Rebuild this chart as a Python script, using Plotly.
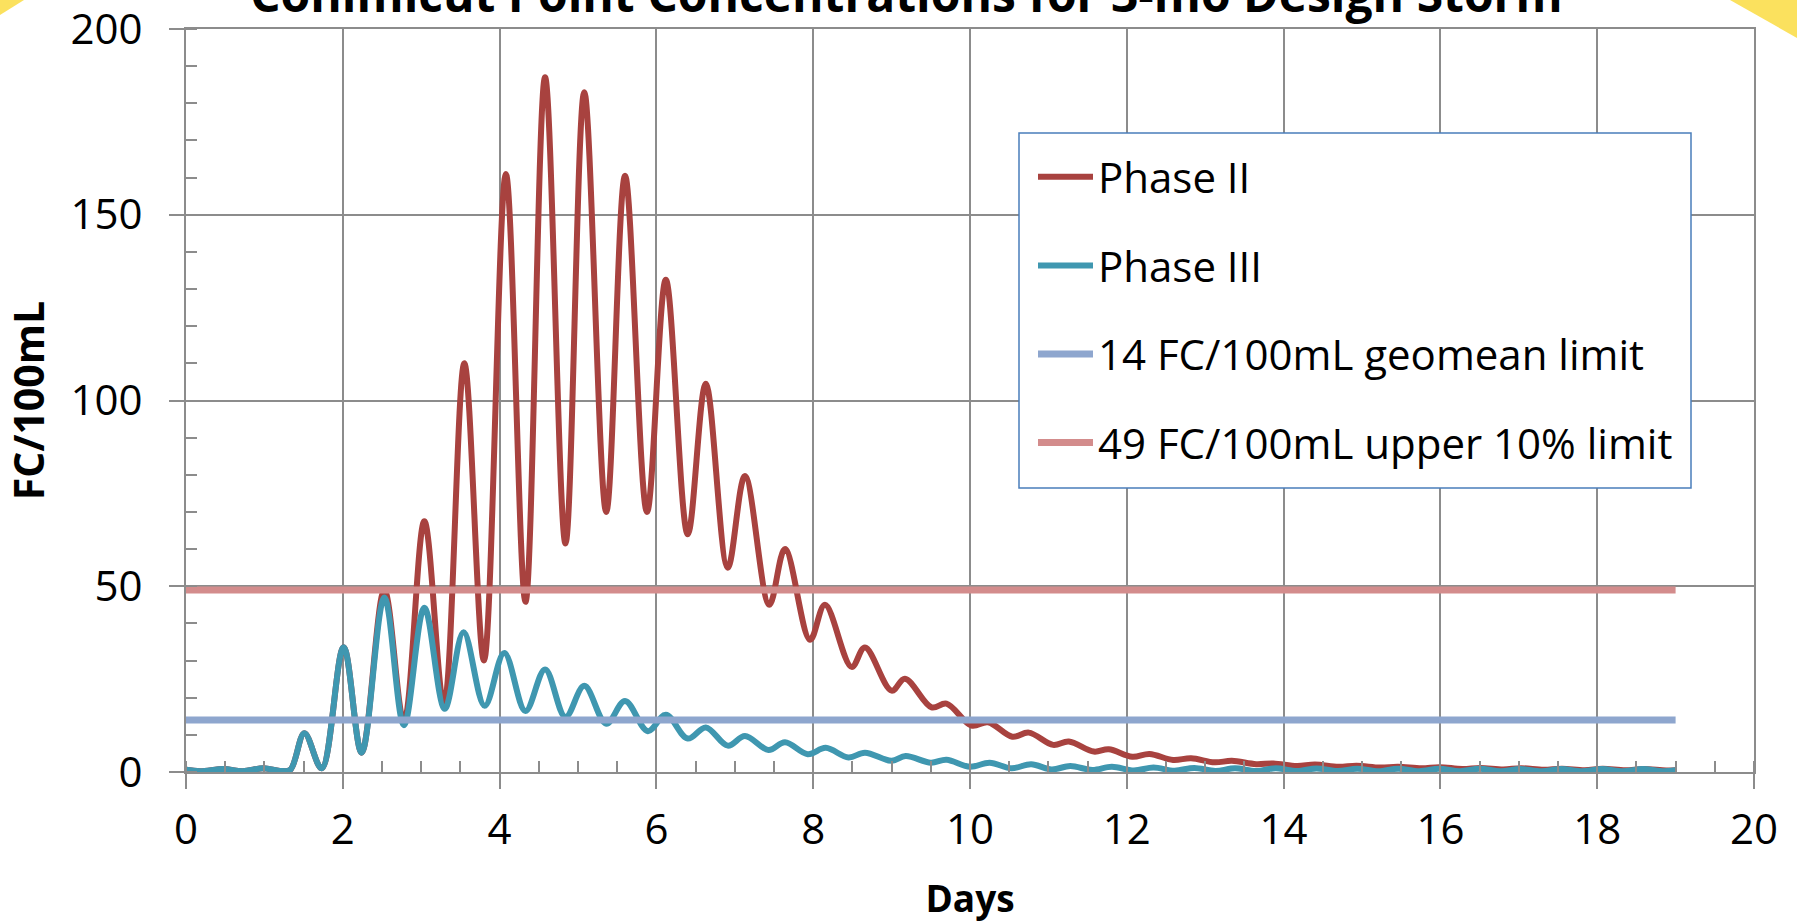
import plotly.graph_objects as go

# ---------------- data ----------------
days_p2 = [0.0, 0.18, 0.48, 0.72, 0.99, 1.2, 1.33, 1.51, 1.73, 2.01, 2.24, 2.53, 2.78,
           3.04, 3.29, 3.55, 3.8, 4.08, 4.33, 4.58, 4.84, 5.08, 5.36,
           5.6, 5.88, 6.12, 6.4, 6.63, 6.91, 7.13, 7.44, 7.64, 7.96,
           8.15, 8.49, 8.66, 9.0, 9.17, 9.51, 9.7, 10.02, 10.23, 10.54,
           10.75, 11.06, 11.26, 11.58, 11.77, 12.07, 12.29, 12.59, 12.82, 13.12,
           13.34, 13.65, 13.87, 14.17, 14.4, 14.7, 14.93, 15.23, 15.46, 15.76,
           15.99, 16.28, 16.51, 16.8, 17.03, 17.32, 17.55, 17.84, 18.07, 18.36,
           18.59, 18.88, 19.0]
fc_p2 = [0.6, 0.2, 0.8, 0.2, 1.0, 0.3, 0.6, 10.4, 1.0, 33.6, 5.2, 49.0, 13.5,
         67.5, 18.0, 110.0, 30.0, 161.0, 45.8, 187.0, 61.5, 183.0, 70.0,
         160.5, 70.0, 132.5, 64.0, 104.5, 55.0, 79.7, 45.0, 60.0, 35.6,
         45.0, 28.3, 33.5, 21.9, 25.1, 17.4, 18.4, 12.5, 13.4, 9.5,
         10.6, 7.3, 8.2, 5.5, 6.1, 4.1, 4.85, 3.25, 3.7, 2.6,
         3.0, 2.1, 2.3, 1.6, 2.0, 1.4, 1.7, 1.2, 1.4, 1.0,
         1.3, 0.8, 1.1, 0.7, 1.0, 0.6, 0.9, 0.5, 0.85, 0.45,
         0.8, 0.4, 0.5]

days_p3 = [0.0, 0.18, 0.48, 0.72, 0.99, 1.2, 1.33, 1.51, 1.73, 2.01, 2.24, 2.53, 2.78,
           3.04, 3.3, 3.54, 3.81, 4.06, 4.33, 4.58, 4.84, 5.08, 5.36,
           5.6, 5.89, 6.12, 6.4, 6.63, 6.91, 7.13, 7.43, 7.64, 7.93,
           8.16, 8.45, 8.66, 9.0, 9.18, 9.5, 9.7, 10.0, 10.25, 10.53,
           10.78, 11.04, 11.28, 11.56, 11.81, 12.09, 12.34, 12.61, 12.86, 13.13,
           13.38, 13.65, 13.9, 14.17, 14.42, 14.69, 14.94, 15.21, 15.46, 15.73,
           15.98, 16.25, 16.5, 16.77, 17.02, 17.29, 17.54, 17.81, 18.06, 18.33,
           18.58, 18.85, 19.0]
fc_p3 = [0.6, 0.2, 0.8, 0.2, 1.0, 0.3, 0.6, 10.4, 1.0, 33.6, 5.2, 47.0, 12.6,
         44.2, 17.0, 37.6, 17.8, 32.0, 16.4, 27.6, 14.8, 23.2, 13.0,
         19.1, 11.0, 15.4, 9.0, 12.0, 7.1, 9.7, 5.9, 8.0, 4.8,
         6.5, 3.9, 5.2, 3.0, 4.3, 2.5, 3.3, 1.4, 2.5, 1.0,
         2.1, 0.7, 1.6, 0.55, 1.4, 0.4, 1.2, 0.35, 1.1, 0.3,
         1.0, 0.3, 1.0, 0.25, 0.95, 0.25, 0.9, 0.2, 0.9, 0.2,
         0.85, 0.2, 0.85, 0.2, 0.8, 0.2, 0.8, 0.2, 0.8, 0.2,
         0.8, 0.2, 0.5]

limit_days = [0, 19]
geomean_limit = [14, 14]
upper_limit = [49, 49]

x_ticks = [0, 2, 4, 6, 8, 10, 12, 14, 16, 18, 20]
y_ticks = [0, 50, 100, 150, 200]

series_names = ["Phase II", "Phase III", "14 FC/100mL geomean limit", "49 FC/100mL upper 10% limit"]
title_text = "Conimicut Point Concentrations for 3-mo Design Storm"
x_title = "Days"
y_title = "FC/100mL"

# ---------------- layout geometry ----------------
W, H = 1797, 924
L, R, T, B = 186, 43, 29, 152
PW, PH = W - L - R, H - T - B


def px(x, y):
    return (x - L) / PW, (H - B - y) / PH


FONT = "Open Sans"
GRID = "#8c8c8c"

fig = go.Figure()
fig.add_trace(go.Scatter(x=days_p2, y=fc_p2, mode="lines", name=series_names[0],
                         line=dict(color="#A8423F", width=6, shape="spline", smoothing=1.0),
                         legendgroup="a"))
fig.add_trace(go.Scatter(x=days_p3, y=fc_p3, mode="lines", name=series_names[1],
                         line=dict(color="#3F97B0", width=6, shape="spline", smoothing=1.0),
                         legendgroup="b"))
fig.add_trace(go.Scatter(x=limit_days, y=geomean_limit, mode="lines", name=series_names[2],
                         line=dict(color="#8EA6CE", width=7), legendgroup="c"))
fig.add_trace(go.Scatter(x=limit_days, y=upper_limit, mode="lines", name=series_names[3],
                         line=dict(color="#D38C8C", width=7), legendgroup="d"))

axis_common = dict(
    showgrid=True, gridcolor=GRID, gridwidth=2,
    showline=True, linecolor=GRID, linewidth=2, mirror=True,
    ticks="outside", ticklen=15, tickwidth=2, tickcolor=GRID,
    zeroline=False, tickfont=dict(family=FONT, size=42, color="black"),
    ticklabeloverflow="allow", tickmode="array", automargin=False,
)

fig.update_xaxes(range=[0, 20], tickvals=x_ticks, ticktext=[str(v) for v in x_ticks],
                 minor=dict(dtick=0.5, tick0=0, ticks="inside", ticklen=11, tickwidth=2, tickcolor=GRID, showgrid=False),
                 ticklabelstandoff=5,
                 title=dict(text="<b>" + x_title + "</b>", font=dict(family=FONT, size=37, color="black"), standoff=31),
                 **axis_common)
fig.update_yaxes(range=[0, 200], tickvals=y_ticks, ticktext=[str(v) for v in y_ticks],
                 minor=dict(dtick=10, tick0=0, ticks="inside", ticklen=11, tickwidth=2, tickcolor=GRID, showgrid=False),
                 ticklabelstandoff=18,
                 title=dict(text="<b>" + y_title + "</b>", font=dict(family=FONT, size=41, color="black"), standoff=16),
                 **axis_common)

# legend box
bx0, by0 = px(1019, 133)
bx1, by1 = px(1691, 488)
shapes = [dict(type="rect", xref="paper", yref="paper", x0=bx0, y0=by0, x1=bx1, y1=by1,
               line=dict(color="#4A7EBB", width=1.5), fillcolor="white", layer="above")]

# decorative yellow corners of the slide background
def tri(points):
    pts = [px(a, b) for a, b in points]
    return "M" + " L".join(f"{x:.5f},{y:.5f}" for x, y in pts) + " Z"

shapes.append(dict(type="path", xref="paper", yref="paper", path=tri([(0, 0), (24, 0), (0, 15)]),
                   fillcolor="#FBE15E", line=dict(width=0), layer="below"))
shapes.append(dict(type="path", xref="paper", yref="paper", path=tri([(1730, 0), (1797, 0), (1797, 38)]),
                   fillcolor="#FBE15E", line=dict(width=0), layer="below"))

lx, ly = px(1033, 143)
fig.update_layout(
    width=W, height=H, autosize=False,
    margin=dict(l=L, r=R, t=T, b=B, pad=0, autoexpand=False),
    plot_bgcolor="white", paper_bgcolor="white",
    font=dict(family=FONT, color="black"),
    showlegend=True,
    legend=dict(x=lx, y=ly, xanchor="left", yanchor="top",
                bgcolor="rgba(0,0,0,0)", borderwidth=0,
                font=dict(family=FONT, size=42, color="black"),
                tracegroupgap=31, itemwidth=55),
    shapes=shapes,
    annotations=[dict(text="<b>" + title_text + "</b>", xref="paper", yref="paper",
                      x=px(906, 0)[0], y=px(0, 28)[1], xanchor="center", yanchor="bottom",
                      showarrow=False, font=dict(family=FONT, size=48, color="black"))],
)

fig.write_html("out.html")
